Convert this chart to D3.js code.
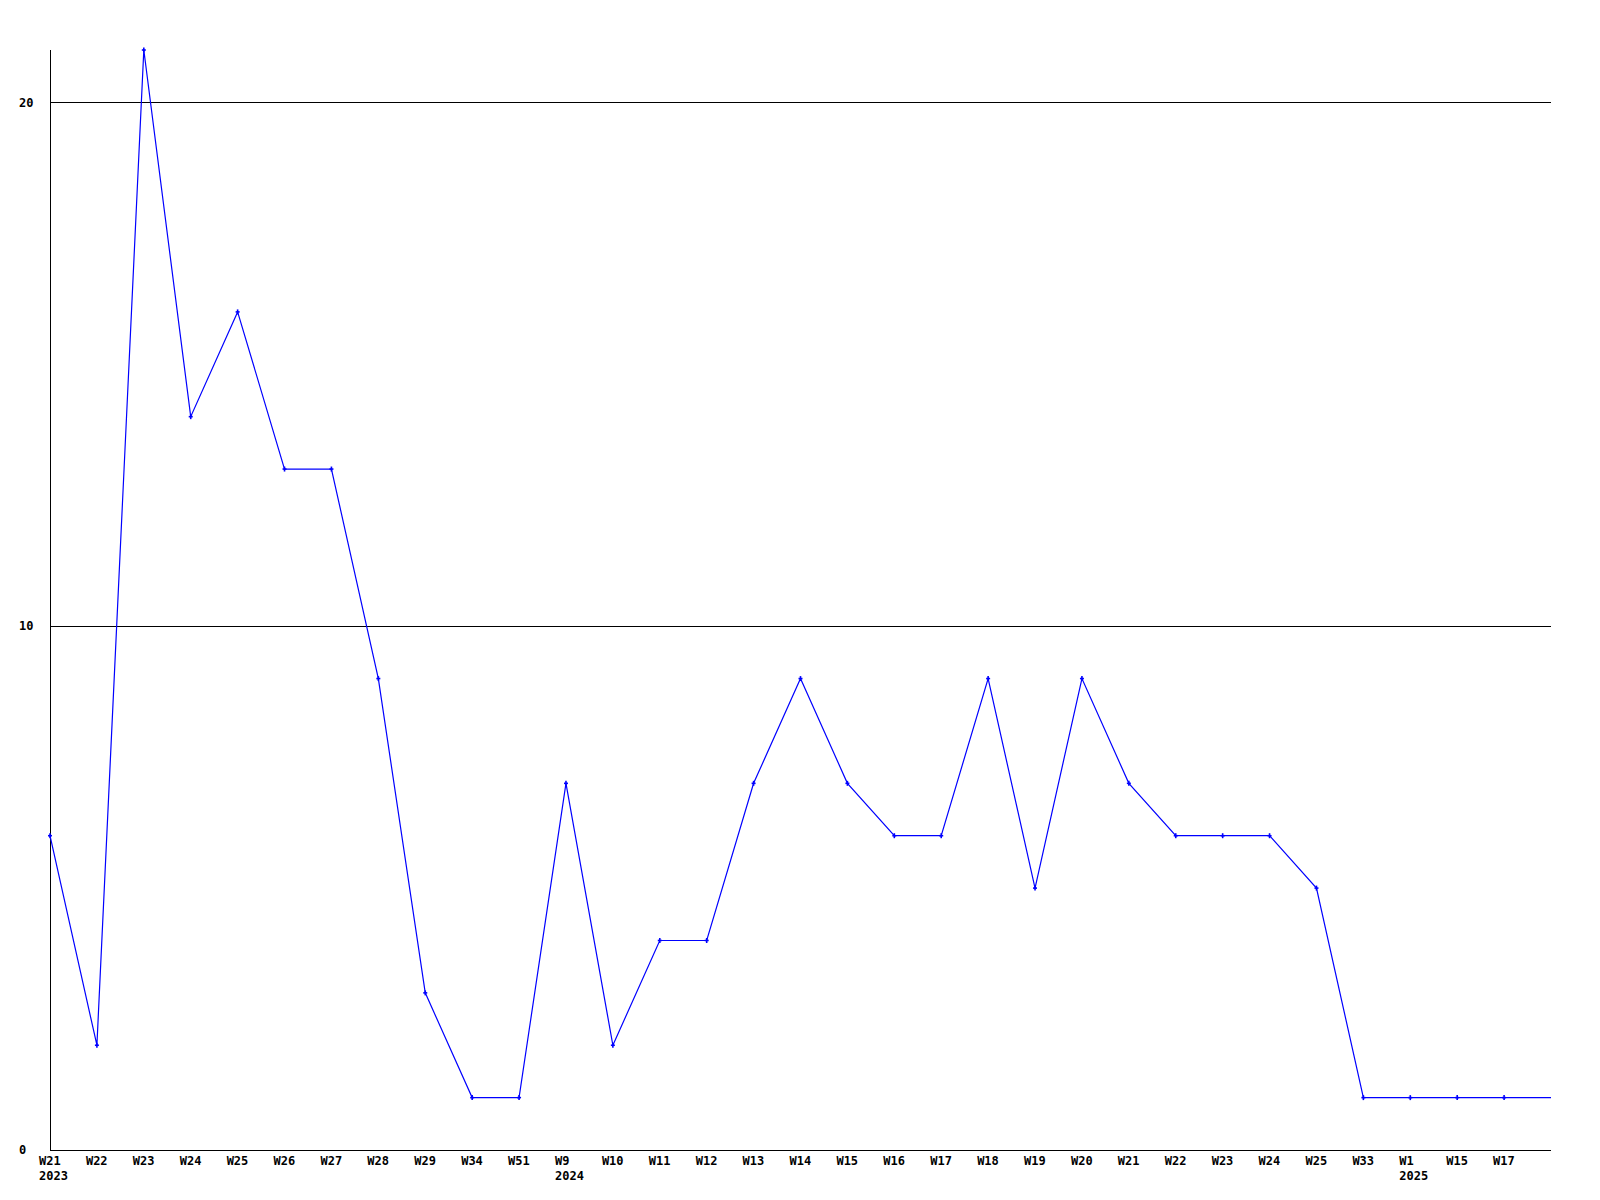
<!DOCTYPE html>
<html>
<head>
<meta charset="utf-8">
<script src="https://cdn.jsdelivr.net/npm/d3@7"></script>
<style>
  html, body { margin: 0; padding: 0; background: #ffffff; }
  svg { display: block; }
  text { font-family: "DejaVu Sans Mono", "Liberation Mono", monospace; font-weight: bold; font-size: 12px; fill: #000; }
</style>
</head>
<body>
<svg id="chart" width="1600" height="1200"></svg>
<script>
// Week labels (x categories); last slot is an unlabeled trailing point at the right edge
const weeks = ["W21","W22","W23","W24","W25","W26","W27","W28","W29","W34","W51",
  "W9","W10","W11","W12","W13","W14","W15","W16","W17","W18","W19","W20","W21","W22","W23","W24","W25","W33",
  "W1","W15","W17",""];
// Year labels shown below the first week of each year
const years = ["2023","","","","","","","","","","",
  "2024","","","","","","","","","","","","","","","","","",
  "2025","","",""];
// Series values
const values = [6,2,21,14,16,13,13,9,3,1,1,
  7,2,4,4,7,9,7,6,6,9,5,9,7,6,6,6,5,1,
  1,1,1,1];
// Y tick labels
const yTicks = [0, 10, 20];

const svg = d3.select("#chart");
const mLeft = 50, mRight = 1551, mTop = 50, mBottom = 1150;

const idx = d3.range(values.length);
const x = d3.scaleLinear().domain([0, values.length - 1]).range([mLeft, mRight]);
const y = d3.scaleLinear().domain([0, 21]).range([mBottom, mTop]);

// Gridlines for nonzero ticks
svg.append("g").selectAll("line").data(yTicks.filter(d => d > 0)).join("line")
  .attr("x1", mLeft).attr("x2", mRight)
  .attr("y1", d => Math.round(y(d)) + 0.5).attr("y2", d => Math.round(y(d)) + 0.5)
  .attr("stroke", "#000").attr("stroke-width", 1);

// Axes lines
svg.append("line").attr("x1", mLeft + 0.5).attr("x2", mLeft + 0.5).attr("y1", mTop).attr("y2", mBottom)
  .attr("stroke", "#000");
svg.append("line").attr("x1", mLeft).attr("x2", mRight).attr("y1", mBottom + 0.5).attr("y2", mBottom + 0.5)
  .attr("stroke", "#000");

// Y labels
svg.append("g").selectAll("text").data(yTicks).join("text")
  .attr("x", 19).attr("y", d => y(d)).attr("dy", "0.35em")
  .attr("text-anchor", "start")
  .text(d => d);

// X labels (left-aligned a fixed offset before each point)
svg.append("g").selectAll("text").data(idx).join("text")
  .attr("x", i => x(i) - 11).attr("y", 1161).attr("dy", "0.35em")
  .attr("text-anchor", "start")
  .text(i => weeks[i]);
svg.append("g").selectAll("text").data(idx.filter(i => years[i])).join("text")
  .attr("x", i => x(i) - 11).attr("y", 1176).attr("dy", "0.35em")
  .attr("text-anchor", "start")
  .text(i => years[i]);

// Line
const line = d3.line().x(i => x(i)).y(i => y(values[i]));
svg.append("path").datum(idx).attr("d", line)
  .attr("fill", "none").attr("stroke", "#0000ff").attr("stroke-width", 1.2);

// Markers (skip the unlabeled trailing point)
const mk = svg.append("g").attr("stroke", "#0000ff").attr("stroke-width", 1.6);
idx.filter(i => weeks[i] !== "").forEach(i => {
  const cx = x(i), cy = y(values[i]);
  mk.append("line").attr("x1", cx - 2).attr("x2", cx + 2).attr("y1", cy).attr("y2", cy);
  mk.append("line").attr("x1", cx).attr("x2", cx).attr("y1", cy - 2.5).attr("y2", cy + 2.5);
});
</script>
</body>
</html>
